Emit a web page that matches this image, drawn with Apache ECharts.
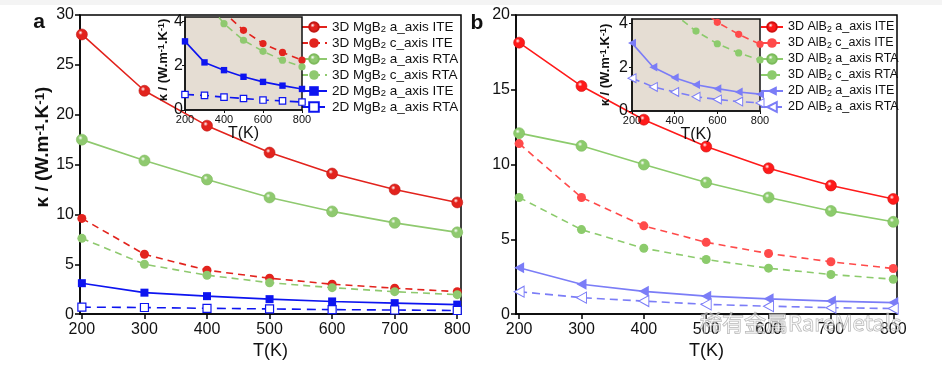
<!DOCTYPE html>
<html><head><meta charset="utf-8">
<script src="https://cdn.jsdelivr.net/npm/echarts@6/dist/echarts.min.js"></script>
<style>html,body{margin:0;padding:0;background:#fff}#c{width:942px;height:365px}</style>
</head><body><div id="c"></div>
<script>
// ---------- data ----------
const temps = [200, 300, 400, 500, 600, 700, 800];
const xTickValues = [200, 300, 400, 500, 600, 700, 800];
const insetXTickValues = [200, 400, 600, 800];
const yTickValuesA = [0, 5, 10, 15, 20, 25, 30];
const yTickValuesB = [0, 5, 10, 15, 20];
const insetYTickValues = [0, 2, 4];

const mgNames = ['3D MgB2 a_axis ITE', '3D MgB2 c_axis ITE', '3D MgB2 a_axis RTA',
                 '3D MgB2 c_axis RTA', '2D MgB2 a_axis ITE', '2D MgB2 a_axis RTA'];
const alNames = ['3D AlB2 a_axis ITE', '3D AlB2 c_axis ITE', '3D AlB2 a_axis RTA',
                 '3D AlB2 c_axis RTA', '2D AlB2 a_axis ITE', '2D AlB2 a_axis RTA'];

const mg3dAIte = [28.05, 22.4, 18.9, 16.2, 14.1, 12.5, 11.2];
const mg3dCIte = [9.6, 6.0, 4.4, 3.6, 3.0, 2.6, 2.25];
const mg3dARta = [17.5, 15.4, 13.5, 11.7, 10.3, 9.15, 8.2];
const mg3dCRta = [7.6, 5.0, 3.9, 3.15, 2.65, 2.25, 1.95];
const mg2dAIte = [3.1, 2.15, 1.8, 1.5, 1.27, 1.1, 0.95];
const mg2dARta = [0.7, 0.66, 0.58, 0.52, 0.45, 0.41, 0.36];

const al3dAIte = [18.15, 15.25, 13.0, 11.2, 9.75, 8.6, 7.7];
const al3dCIte = [11.4, 7.8, 5.9, 4.8, 4.05, 3.5, 3.05];
const al3dARta = [12.1, 11.25, 10.0, 8.8, 7.8, 6.9, 6.17];
const al3dCRta = [7.8, 5.65, 4.4, 3.65, 3.07, 2.65, 2.33];
const al2dAIte = [3.1, 2.0, 1.52, 1.2, 1.02, 0.87, 0.77];
const al2dARta = [1.5, 1.1, 0.87, 0.65, 0.53, 0.43, 0.37];

const mgData = [mg3dAIte, mg3dCIte, mg3dARta, mg3dCRta, mg2dAIte, mg2dARta];
const alData = [al3dAIte, al3dCIte, al3dARta, al3dCRta, al2dAIte, al2dARta];

// ---------- styles ----------
const FONT = '"Liberation Sans", Arial, Helvetica, sans-serif';
function ball(c) {
  return new echarts.graphic.RadialGradient(0.38, 0.35, 0.65, [
    {offset: 0, color: '#ffffff'}, {offset: 0.3, color: c}, {offset: 1, color: c}]);
}
const redA = '#e2231d', greenA = '#8fc96f', blueA = '#0d14f0';
const redB = '#ff1a1a', redB2 = '#ff4a4a', greenB = '#8ccb6c', blueB = '#7b7df7';

const stylesA = [
  {symbol: 'circle', size: 11, color: redA, fill: ball(redA), border: '#c01814', bw: 0.6},
  {symbol: 'circle', size: 9, color: redA, fill: redA, dash: [7, 5]},
  {symbol: 'circle', size: 11, color: greenA, fill: ball(greenA), border: '#7fbb5e', bw: 0.6},
  {symbol: 'circle', size: 9, color: greenA, fill: greenA, dash: [7, 5]},
  {symbol: 'rect', size: 8, color: blueA, fill: blueA},
  {symbol: 'rect', size: 8, color: blueA, fill: '#ffffff', border: blueA, bw: 1.2, dash: [9, 6]}
];
const stylesB = [
  {symbol: 'circle', size: 11, color: redB, fill: ball(redB), border: '#d01010', bw: 0.6},
  {symbol: 'circle', size: 9, color: redB2, fill: redB2, dash: [7, 5]},
  {symbol: 'circle', size: 11, color: greenB, fill: ball(greenB), border: '#7cbb5c', bw: 0.6},
  {symbol: 'circle', size: 9, color: greenB, fill: greenB, dash: [7, 5]},
  {symbol: 'triangle', size: [11, 10], rotate: 90, color: blueB, fill: blueB},
  {symbol: 'triangle', size: [11, 10], rotate: 90, color: blueB, fill: '#ffffff', border: blueB, bw: 1, dash: [8, 5]}
];

function makeSeries(name, vals, st, xi, yi, z, scale) {
  const sz = Array.isArray(st.size) ? st.size.map(v => v * scale) : st.size * scale;
  return {
    name: name, type: 'line', xAxisIndex: xi, yAxisIndex: yi, z: z,
    data: temps.map((t, i) => [t, vals[i]]),
    symbol: st.symbol, symbolSize: sz, symbolRotate: st.rotate || 0,
    showAllSymbol: true, clip: true, animation: false,
    lineStyle: {color: st.color, width: 1.6, type: st.dash || 'solid'},
    itemStyle: {color: st.fill, borderColor: st.border || st.color, borderWidth: st.bw || 0, opacity: 1},
    emphasis: {disabled: true}
  };
}

const series = [];
mgNames.forEach((n, i) => series.push(makeSeries(n, mgData[i], stylesA[i], 0, 0, 2, 1)));
alNames.forEach((n, i) => series.push(makeSeries(n, alData[i], stylesB[i], 1, 1, 2, 1)));
mgNames.forEach((n, i) => series.push(makeSeries(n + ' (inset)', mgData[i], stylesA[i], 2, 2, 12, 0.8)));
alNames.forEach((n, i) => series.push(makeSeries(n + ' (inset)', alData[i], stylesB[i], 3, 3, 12, 0.8)));

// ---------- axes ----------
const axisLineStyle = {color: '#000', width: 1.5};
function mainX(gi, min, max) {
  return {
    type: 'value', gridIndex: gi, min: min, max: max,
    axisLine: {show: true, onZero: false, lineStyle: axisLineStyle},
    axisTick: {show: true, length: 5, customValues: xTickValues, lineStyle: axisLineStyle},
    axisLabel: {customValues: xTickValues, fontSize: 16, color: '#111', margin: 7, fontFamily: FONT},
    splitLine: {show: false},
    name: 'T(K)', nameLocation: 'middle', nameGap: 18,
    nameTextStyle: {fontSize: 18, color: '#111', fontFamily: FONT}
  };
}
function mainY(gi, max, ticks) {
  return {
    type: 'value', gridIndex: gi, min: 0, max: max,
    axisLine: {show: true, onZero: false, lineStyle: axisLineStyle},
    axisTick: {show: true, length: 5, customValues: ticks, lineStyle: axisLineStyle},
    axisLabel: {customValues: ticks, fontSize: 16, color: '#111', margin: 6, fontFamily: FONT},
    splitLine: {show: false}
  };
}
function insetX(gi) {
  return {
    type: 'value', gridIndex: gi, min: 200, max: 800, z: 12,
    axisLine: {show: true, onZero: false, lineStyle: {color: '#111', width: 1.5}},
    axisTick: {show: true, length: 3, customValues: insetXTickValues, lineStyle: {color: '#111', width: 1}},
    axisLabel: {customValues: insetXTickValues, fontSize: 11, color: '#111', margin: 4, fontFamily: FONT},
    splitLine: {show: false},
    name: 'T(K)', nameLocation: 'middle', nameGap: 15,
    nameTextStyle: {fontSize: 16, color: '#111', fontFamily: FONT}
  };
}
function insetY(gi, max, margin) {
  return {
    type: 'value', gridIndex: gi, min: 0, max: max, z: 12,
    axisLine: {show: true, onZero: false, lineStyle: {color: '#111', width: 1.5}},
    axisTick: {show: true, length: 3, customValues: insetYTickValues, lineStyle: {color: '#111', width: 1}},
    axisLabel: {customValues: insetYTickValues, fontSize: 16, color: '#111', margin: margin, fontFamily: FONT},
    splitLine: {show: false}
  };
}

function legend(names, left, itemWidth, fs) {
  return {
    data: names.map(n => ({name: n})),
    orient: 'vertical', left: left, top: 20,
    itemWidth: itemWidth, itemHeight: 12, itemGap: 2,
    selectedMode: false, padding: 0,
    formatter: n => n.replace('B2', 'B{s|2}'),
    textStyle: {fontSize: fs, color: '#111', fontFamily: FONT, lineHeight: 14,
      rich: {s: {fontSize: fs * 0.7, lineHeight: 14, verticalAlign: 'bottom', padding: [5, 0, 0, 0], fontFamily: FONT, color: '#111'}}}
  };
}

const supRich = function (fs) {
  return {sup: {fontSize: fs * 0.7, verticalAlign: 'top', fontWeight: 'bold', fontFamily: FONT, fill: '#111'}};
};
function yName(x, y, fs) {
  return {
    type: 'text', x: x, y: y, rotation: Math.PI / 2, z: 20,
    style: {text: 'κ / (W.m{sup|-1}.K{sup|-1})', fontSize: fs, fontWeight: 'bold', fontFamily: FONT,
            fill: '#111', align: 'center', verticalAlign: 'middle', rich: supRich(fs)}
  };
}

const option = {
  backgroundColor: '#ffffff',
  animation: false,
  grid: [
    {left: 80, top: 15, width: 381, height: 307, show: true, borderColor: '#000', borderWidth: 1.5, backgroundColor: 'transparent'},
    {left: 516, top: 15, width: 381, height: 307, show: true, borderColor: '#000', borderWidth: 1.5, backgroundColor: 'transparent'},
    {left: 185, top: 17, width: 117, height: 93, show: true, borderColor: '#111', borderWidth: 1.5, backgroundColor: '#e5ddd3', z: 10},
    {left: 632, top: 19, width: 128, height: 92, show: true, borderColor: '#111', borderWidth: 1.5, backgroundColor: '#e5ddd3', z: 10}
  ],
  xAxis: [mainX(0, 197, 806), mainX(1, 195, 806), insetX(2), insetX(3)],
  yAxis: [mainY(0, 30, yTickValuesA), mainY(1, 20, yTickValuesB), insetY(2, 4.2, 2), insetY(3, 4.2, 4)],
  legend: [legend(mgNames, 300, 26, 13.5), legend(alNames, 760, 22, 12.5)],
  series: series,
  graphic: [
    {type: 'rect', shape: {x: 0, y: 0, width: 942, height: 5}, style: {fill: '#f4f4f4'}, z: -1},
    {type: 'text', x: 39, y: 22, style: {text: 'a', fontSize: 21, fontWeight: 'bold', fontFamily: FONT, fill: '#111', align: 'center', verticalAlign: 'middle'}},
    {type: 'text', x: 477, y: 23, style: {text: 'b', fontSize: 21, fontWeight: 'bold', fontFamily: FONT, fill: '#111', align: 'center', verticalAlign: 'middle'}},
    yName(43, 147, 19),
    yName(163, 60, 13),
    yName(605, 65, 13),
    {type: 'text', x: 700, y: 323, z: 30,
     style: {text: '稀有金属RareMetals', fontSize: 22, fontFamily: '"Noto Sans CJK SC", sans-serif',
             fill: 'rgba(255,255,255,0.55)', stroke: 'rgba(110,110,110,0.55)', lineWidth: 1,
             align: 'left', verticalAlign: 'middle'}}
  ]
};

const chart = echarts.init(document.getElementById('c'), null, {renderer: 'canvas'});
chart.setOption(option);
</script>
</body></html>
